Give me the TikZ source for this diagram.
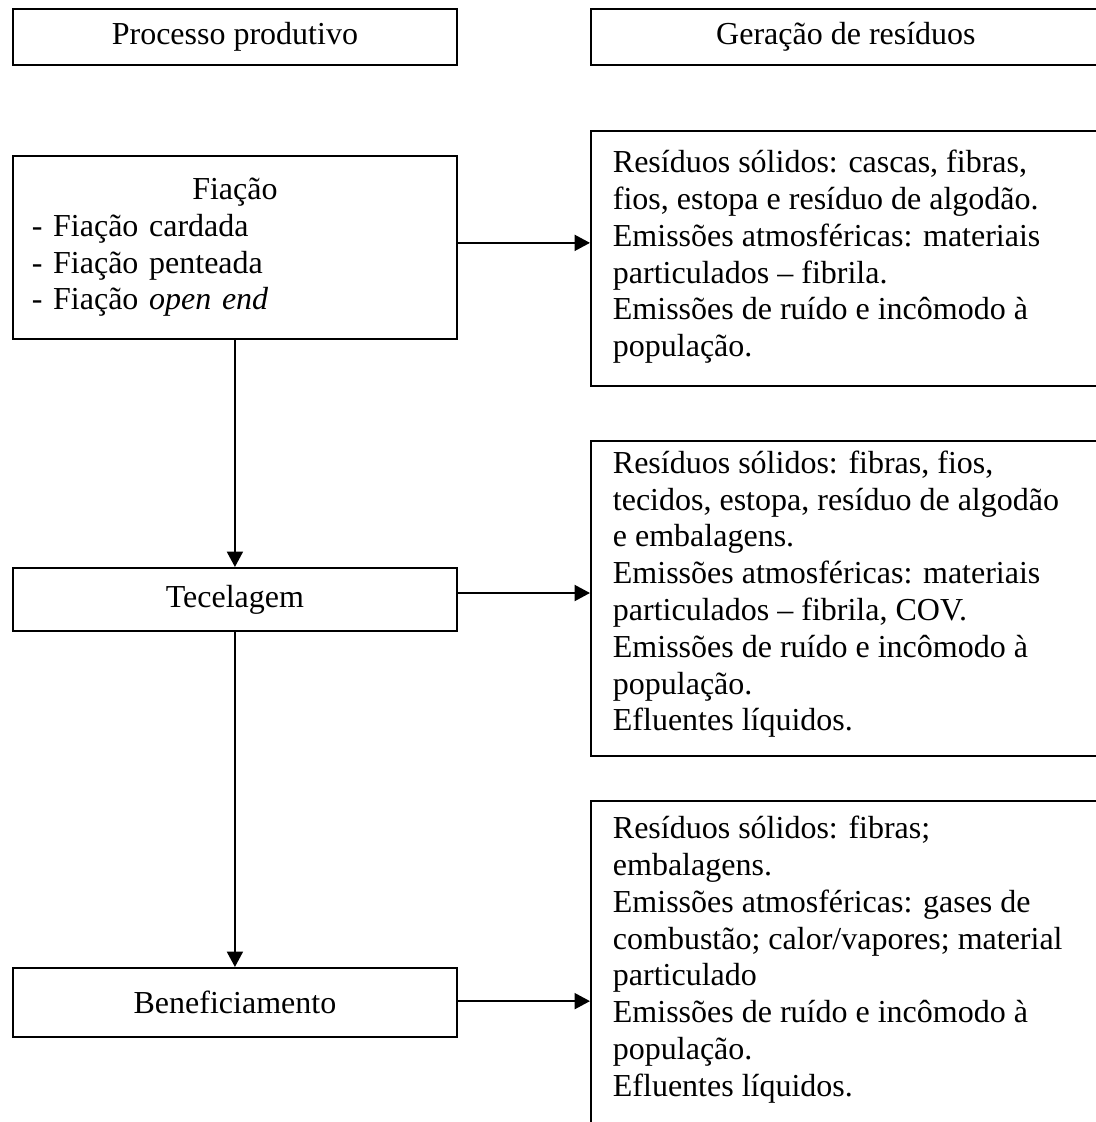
\documentclass[tikz,border=0pt]{standalone}
\usepackage{fontspec}
\setmainfont{Liberation Serif}
\usetikzlibrary{arrows.meta}

\tikzset{
  etapa/.style={draw, line width=0.7pt, anchor=north west, minimum width=166.5pt,
    font=\fontsize{12pt}{13.8pt}\selectfont},
  residuo/.style={draw, line width=0.7pt, anchor=north west, inner xsep=8.25pt, inner ysep=0pt,
    font=\fontsize{12pt}{13.8pt}\selectfont},
  fluxo/.style={line width=0.8pt, -{Triangle[length=5.8pt,width=6pt]}}
}
% caixa de texto alinhada no topo: altura, margem superior, texto
\newcommand{\listaresiduos}[3]{\parbox[c][#1][t]{174.75pt}{\raggedright\vspace*{#2}\strut #3}}

\begin{document}
\begin{tikzpicture}[x=0.375pt,y=-0.375pt]

\def\LARGURADIR{191.25pt}
\clip (0,0) rectangle (1096,1122);

	% cabecalhos
	\node[etapa, minimum height=21pt] (processo) at (12,8) {Processo produtivo};
	\node[etapa, minimum width=\LARGURADIR, minimum height=21pt] (geracao) at (590,8) {Geração de resíduos};

	% etapas do processo
	\node[etapa, minimum height=68.6pt, text width=152.3pt, inner xsep=7.1pt, align=left] (fiacao) at (12,155)
	  {\makebox[152.3pt][c]{Fiação}\\ - Fiação cardada\\ - Fiação penteada\\ - Fiação \textit{open end}};
	\node[etapa, minimum height=23.6pt] (tecelagem) at (12,567) {Tecelagem};
	\node[etapa, minimum height=25.9pt] (beneficiamento) at (12,967) {Beneficiamento};

	% residuos gerados
	\node[residuo] (resfiacao) at (590,130) {\listaresiduos{95.6pt}{6pt}{Resíduos sólidos: cascas, fibras,\\ fios, estopa e resíduo de algodão.\\ Emissões atmosféricas: materiais\\ particulados -- fibrila.\\ Emissões de ruído e incômodo à\\ população.}};
	\node[residuo] (restecelagem) at (590,440) {\listaresiduos{118.1pt}{2.5pt}{Resíduos sólidos: fibras, fios,\\ tecidos, estopa, resíduo de algodão\\ e embalagens.\\ Emissões atmosféricas: materiais\\ particulados -- fibrila, COV.\\ Emissões de ruído e incômodo à\\ população.\\ Efluentes líquidos.}};
	\node[residuo] (resbenef) at (590,800) {\listaresiduos{127.5pt}{4.5pt}{Resíduos sólidos: fibras;\\ embalagens.\\ Emissões atmosféricas: gases de\\ combustão; calor/vapores; material\\ particulado\\ Emissões de ruído e incômodo à\\ população.\\ Efluentes líquidos.}};

	% setas
	\coordinate (saidafiacao) at ([yshift=1.7pt]fiacao.east);
	\coordinate (saidatecelagem) at ([yshift=2.4pt]tecelagem.east);
	\coordinate (saidabenef) at ([yshift=0.5pt]beneficiamento.east);
	\draw[fluxo] (saidafiacao) -- (saidafiacao -| resfiacao.west);
	\draw[fluxo] (saidatecelagem) -- (saidatecelagem -| restecelagem.west);
	\draw[fluxo] (saidabenef) -- (saidabenef -| resbenef.west);
	\draw[fluxo] (fiacao.south) -- (tecelagem.north);
	\draw[fluxo] (tecelagem.south) -- (beneficiamento.north);

\end{tikzpicture}
\end{document}
